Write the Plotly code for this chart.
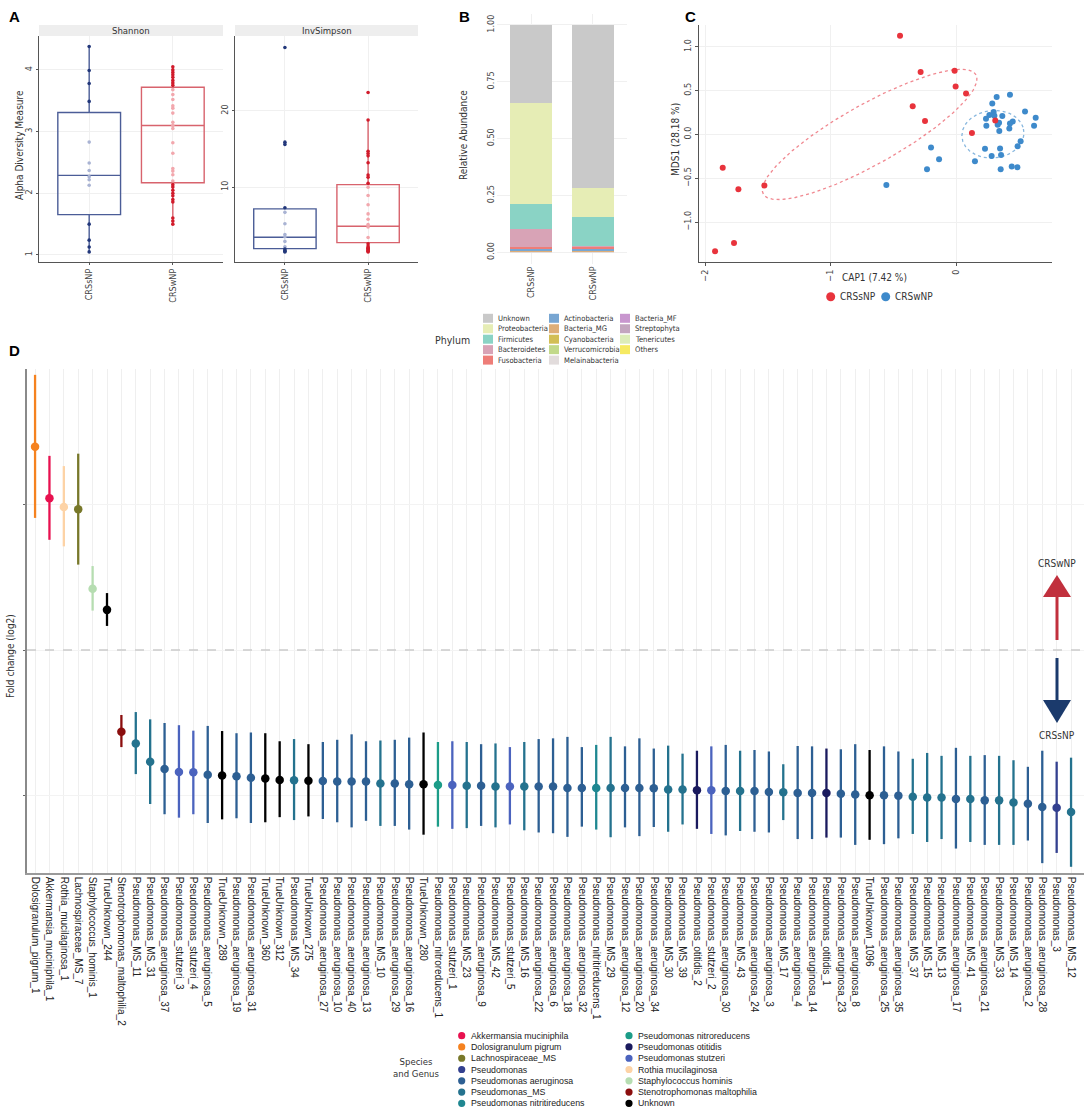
import numpy as np
import plotly.graph_objects as go

W, H = 1084, 1112
def X(p): return p / W
def Y(p): return 1 - p / H

COND = "Liberation Sans Narrow, DejaVu Sans Condensed, sans-serif"
SANS = "Liberation Sans, Arial, sans-serif"
TXT = "#333333"
GRID = "#F0F0F0"

# ---------------- Panel A data (alpha diversity) ----------------
groups = ["CRSsNP", "CRSwNP"]
shannon_crssnp = [4.38, 3.99, 3.78, 3.49, 2.83, 2.49, 2.37, 2.27, 2.22, 2.13, 1.50, 1.24, 1.13, 1.05]
shannon_crswnp = [4.05, 4.00, 3.96, 3.92, 3.88, 3.83, 3.79, 3.75, 3.68, 3.60, 3.52, 3.42, 3.38, 3.30,
                  3.15, 3.10, 3.05, 2.82, 2.65, 2.40, 2.36, 2.30, 2.20, 2.14, 2.10, 2.05, 2.00, 1.96,
                  1.90, 1.86, 1.60, 1.55, 1.50]
invsimpson_crssnp = [28.3, 15.9, 15.6, 7.3, 6.7, 5.2, 3.8, 3.5, 2.9, 2.2, 1.9, 1.7, 1.6, 1.5]
invsimpson_crswnp = [22.4, 18.8, 14.7, 14.4, 14.1, 13.2, 11.6, 11.3, 10.5, 10.0, 8.9, 7.7, 6.5, 5.8,
                     5.1, 4.8, 3.4, 2.6, 2.3, 2.1, 2.0, 1.9, 1.8, 1.7, 1.6, 1.5]
shannon_q1 = [1.654, 2.17]
shannon_med = [2.29, 3.10]
shannon_q3 = [3.31, 3.72]
shannon_lo = [1.05, 1.50]
shannon_hi = [4.38, 4.05]
invs_q1 = [1.95, 2.74]
invs_med = [3.45, 4.89]
invs_q3 = [7.16, 10.34]
invs_lo = [1.5, 1.5]
invs_hi = [7.3, 18.8]

# ---------------- Panel B data (phylum relative abundance) ----------------
phyla = ["Unknown", "Proteobacteria", "Firmicutes", "Bacteroidetes", "Fusobacteria",
         "Actinobacteria", "Bacteria_MG", "Cyanobacteria", "Verrucomicrobia", "Melainabacteria",
         "Bacteria_MF", "Streptophyta", "Tenericutes", "Others"]
abund_crssnp = [0.345, 0.4424, 0.1086, 0.079, 0.0075, 0.008, 0.004, 0.001, 0.001, 0.0005,
                0.0005, 0.001, 0.0005, 0.001]
abund_crswnp = [0.7185, 0.1245, 0.1291, 0.002, 0.0084, 0.008, 0.004, 0.001, 0.001, 0.0005,
                0.0005, 0.001, 0.0005, 0.001]
phylum_colors = ["#C9C9C9", "#E6EDB5", "#8AD3C5", "#D8A3B6", "#EE7D78", "#78A6D2", "#DEAE78",
                 "#D2BE55", "#C2D98A", "#E2DCDC", "#C896CE", "#C3A5BF", "#DCECB8", "#F6EA62"]

# ---------------- Panel C data (CAP ordination) ----------------
cap1_crssnp = [-0.446, -0.282, -0.011, -0.003, 0.080, -0.345, -0.247, 0.127, 0.313, -1.859,
               -1.734, -1.527, -1.769, -1.920]
mds1_crssnp = [1.127, 0.712, 0.727, 0.548, 0.468, 0.323, 0.152, 0.015, 0.160, -0.381,
               -0.625, -0.583, -1.239, -1.334]
cap1_crswnp = [0.430, 0.324, 0.289, 0.550, 0.635, 0.622, 0.266, 0.300, 0.306, 0.239, 0.369,
               0.343, 0.332, 0.452, 0.430, 0.242, 0.425, 0.345, 0.515, 0.491, 0.351, 0.231,
               -0.199, -0.135, -0.231, 0.284, 0.359, 0.151, 0.356, 0.444, 0.489, -0.555]
mds1_crswnp = [0.453, 0.426, 0.354, 0.263, 0.190, 0.098, 0.221, 0.255, 0.213, 0.179, 0.209,
               0.133, 0.110, 0.149, 0.126, 0.098, 0.069, 0.038, -0.077, -0.134, -0.160, -0.164,
               -0.149, -0.282, -0.397, -0.245, -0.236, -0.305, -0.397, -0.366, -0.374, -0.576]
# confidence ellipses: centre, first semi-axis vector, second semi-axis vector (data units)
ellipse_crssnp = [(-0.688, 0.0), (0.848, 0.68), (-0.115, 0.301)]
ellipse_crswnp = [(0.2945, 0.002), (0.24, 0.08), (-0.06, 0.26)]

# ---------------- Panel D data (differential abundance) ----------------
d_labels = ["Dolosigranulum_pigrum_1", "Akkermansia_muciniphila_1", "Rothia_mucilaginosa_1",
            "Lachnospiraceae_MS_7", "Staphylococcus_hominis_1", "TrueUnknown_244",
            "Stenotrophomonas_maltophilia_2", "Pseudomonas_MS_11", "Pseudomonas_MS_31",
            "Pseudomonas_aeruginosa_37", "Pseudomonas_stutzeri_3", "Pseudomonas_stutzeri_4",
            "Pseudomonas_aeruginosa_5", "TrueUnknown_289", "Pseudomonas_aeruginosa_19",
            "Pseudomonas_aeruginosa_31", "TrueUnknown_360", "TrueUnknown_312", "Pseudomonas_MS_34",
            "TrueUnknown_275", "Pseudomonas_aeruginosa_27", "Pseudomonas_aeruginosa_10",
            "Pseudomonas_aeruginosa_40", "Pseudomonas_aeruginosa_13", "Pseudomonas_MS_10",
            "Pseudomonas_aeruginosa_29", "Pseudomonas_aeruginosa_16", "TrueUnknown_280",
            "Pseudomonas_nitroreducens_1", "Pseudomonas_stutzeri_1", "Pseudomonas_MS_23",
            "Pseudomonas_aeruginosa_9", "Pseudomonas_MS_42", "Pseudomonas_stutzeri_5",
            "Pseudomonas_MS_16", "Pseudomonas_aeruginosa_22", "Pseudomonas_aeruginosa_6",
            "Pseudomonas_aeruginosa_18", "Pseudomonas_aeruginosa_32", "Pseudomonas_nitritireducens_1",
            "Pseudomonas_MS_29", "Pseudomonas_aeruginosa_12", "Pseudomonas_aeruginosa_20",
            "Pseudomonas_aeruginosa_34", "Pseudomonas_MS_30", "Pseudomonas_MS_39",
            "Pseudomonas_otitidis_2", "Pseudomonas_stutzeri_2", "Pseudomonas_aeruginosa_30",
            "Pseudomonas_MS_43", "Pseudomonas_aeruginosa_24", "Pseudomonas_aeruginosa_3",
            "Pseudomonas_MS_17", "Pseudomonas_aeruginosa_4", "Pseudomonas_aeruginosa_14",
            "Pseudomonas_otitidis_1", "Pseudomonas_aeruginosa_23", "Pseudomonas_aeruginosa_8",
            "TrueUnknown_1096", "Pseudomonas_aeruginosa_25", "Pseudomonas_aeruginosa_35",
            "Pseudomonas_MS_37", "Pseudomonas_MS_15", "Pseudomonas_MS_13", "Pseudomonas_aeruginosa_17",
            "Pseudomonas_MS_41", "Pseudomonas_aeruginosa_21", "Pseudomonas_MS_33", "Pseudomonas_MS_14",
            "Pseudomonas_aeruginosa_2", "Pseudomonas_aeruginosa_28", "Pseudomonas_3", "Pseudomonas_MS_12"]
d_fc = [27.85, 20.8, 19.6, 19.3, 8.4, 5.5, -11.2, -12.8, -15.3, -16.3,
        -16.7, -16.75, -17.1, -17.2, -17.3, -17.5, -17.6, -17.8, -17.85, -17.9,
        -17.95, -18.0, -18.0, -18.0, -18.3, -18.3, -18.4, -18.4, -18.5, -18.5,
        -18.6, -18.6, -18.7, -18.7, -18.7, -18.7, -18.7, -18.9, -18.9, -18.9,
        -18.9, -18.9, -18.9, -18.95, -19.1, -19.1, -19.2, -19.2, -19.3, -19.3,
        -19.3, -19.45, -19.5, -19.6, -19.6, -19.6, -19.7, -19.8, -19.9, -19.9,
        -19.95, -20.1, -20.2, -20.2, -20.4, -20.4, -20.6, -20.6, -20.9, -21.05,
        -21.5, -21.6, -22.2]
d_hi = [37.7, 26.6, 25.2, 26.9, 11.5, 7.8, -8.9, -8.5, -9.5, -10.0,
        -10.3, -11.05, -10.4, -11.1, -11.4, -11.3, -11.4, -12.5, -12.2, -12.9,
        -12.6, -12.3, -11.55, -12.5, -12.4, -12.3, -12.0, -11.3, -12.6, -12.5,
        -12.6, -12.9, -12.8, -13.3, -12.6, -12.2, -12.1, -11.9, -13.3, -13.0,
        -11.9, -13.2, -12.1, -13.5, -13.1, -14.2, -13.8, -13.2, -13.0, -13.8,
        -13.7, -13.9, -15.65, -13.15, -13.2, -13.5, -13.6, -12.9, -13.7, -13.2,
        -13.9, -14.9, -14.1, -14.5, -13.4, -14.5, -14.4, -14.5, -15.1, -16.0,
        -13.8, -15.3, -14.75]
d_lo = [18.1, 15.1, 14.2, 11.7, 5.4, 3.3, -13.3, -17.0, -21.1, -22.5,
        -22.97, -22.5, -23.7, -23.2, -23.05, -23.7, -23.6, -22.9, -23.3, -22.8,
        -23.15, -23.6, -24.3, -23.4, -24.1, -24.1, -24.6, -25.3, -24.2, -24.5,
        -24.4, -24.1, -24.3, -23.9, -24.7, -25.0, -25.1, -25.6, -24.2, -24.6,
        -25.65, -24.3, -25.5, -24.25, -24.9, -23.9, -24.5, -25.2, -25.4, -24.8,
        -24.9, -25.0, -23.3, -25.9, -25.9, -25.7, -25.7, -26.7, -26.0, -26.6,
        -25.8, -25.2, -26.3, -25.9, -27.2, -26.3, -26.7, -26.7, -26.7, -26.1,
        -29.2, -27.8, -29.7]
taxa = ["Akkermansia muciniphila", "Dolosigranulum pigrum", "Lachnospiraceae_MS", "Pseudomonas",
        "Pseudomonas aeruginosa", "Pseudomonas_MS", "Pseudomonas nitritireducens",
        "Pseudomonas nitroreducens", "Pseudomonas otitidis", "Pseudomonas stutzeri",
        "Rothia mucilaginosa", "Staphylococcus hominis", "Stenotrophomonas maltophilia", "Unknown"]
taxa_colors = ["#E8114F", "#F5821F", "#78782A", "#33408F", "#2D5F93", "#24728E", "#1F8791",
               "#1C9C88", "#1A1A5E", "#4B63BE", "#FDD3A6", "#B6DDB1", "#8B0E0E", "#000000"]
taxon_color = dict(zip(taxa, taxa_colors))


def taxon_of(label):
    if label.startswith("TrueUnknown"):
        return "Unknown"
    prefixes = [("Pseudomonas_MS_", "Pseudomonas_MS"),
                ("Pseudomonas_aeruginosa", "Pseudomonas aeruginosa"),
                ("Pseudomonas_stutzeri", "Pseudomonas stutzeri"),
                ("Pseudomonas_nitroreducens", "Pseudomonas nitroreducens"),
                ("Pseudomonas_nitritireducens", "Pseudomonas nitritireducens"),
                ("Pseudomonas_otitidis", "Pseudomonas otitidis"),
                ("Pseudomonas_", "Pseudomonas"),
                ("Dolosigranulum", "Dolosigranulum pigrum"),
                ("Akkermansia", "Akkermansia muciniphila"),
                ("Rothia", "Rothia mucilaginosa"),
                ("Lachnospiraceae", "Lachnospiraceae_MS"),
                ("Staphylococcus", "Staphylococcus hominis"),
                ("Stenotrophomonas", "Stenotrophomonas maltophilia")]
    for p, name in prefixes:
        if label.startswith(p):
            return name
    return "Unknown"


fig = go.Figure()

# ================= Panel A =================
box_line = ["#4B5D97", "#D8636D"]
pt_dark = ["#22377A", "#D11B2B"]
pt_light = ["#A9B3D3", "#F2A7AD"]
panelA = [("x", "y", [shannon_crssnp, shannon_crswnp], shannon_q1, shannon_med, shannon_q3, shannon_lo, shannon_hi),
          ("x2", "y2", [invsimpson_crssnp, invsimpson_crswnp], invs_q1, invs_med, invs_q3, invs_lo, invs_hi)]
for xa, ya, pts, q1, med, q3, lo, hi in panelA:
    for i, g in enumerate(groups):
        fig.add_trace(go.Box(x=[g], q1=[q1[i]], median=[med[i]], q3=[q3[i]],
                             lowerfence=[lo[i]], upperfence=[hi[i]], width=0.75,
                             line=dict(color=box_line[i], width=1.4), fillcolor="rgba(255,255,255,0)",
                             whiskerwidth=0, boxpoints=False, xaxis=xa, yaxis=ya, showlegend=False))
        cols = [pt_light[i] if q1[i] < v < q3[i] else pt_dark[i] for v in pts[i]]
        fig.add_trace(go.Scatter(x=[g] * len(pts[i]), y=pts[i], mode="markers",
                                 marker=dict(size=3.6, color=cols), xaxis=xa, yaxis=ya, showlegend=False))

# ================= Panel B =================
for name, vs, vw, c in reversed(list(zip(phyla, abund_crssnp, abund_crswnp, phylum_colors))):
    fig.add_trace(go.Bar(x=groups, y=[vs, vw], marker=dict(color=c, line=dict(width=0)), width=0.667,
                         name=name, xaxis="x3", yaxis="y3", showlegend=False))

# ================= Panel C =================
t = np.linspace(0, 2 * np.pi, 240)
for ell, col in [(ellipse_crssnp, "#F08890"), (ellipse_crswnp, "#86B6DE")]:
    (cx, cy), (ax_, ay_), (bx_, by_) = ell
    fig.add_trace(go.Scatter(x=cx + ax_ * np.cos(t) + bx_ * np.sin(t),
                             y=cy + ay_ * np.cos(t) + by_ * np.sin(t), mode="lines",
                             line=dict(color=col, width=1.3, dash="dot"), xaxis="x4", yaxis="y4",
                             showlegend=False, hoverinfo="skip"))
c_colors = ["#E8333C", "#3E8ACB"]
fig.add_trace(go.Scatter(x=cap1_crswnp, y=mds1_crswnp, mode="markers", name="CRSwNP",
                         marker=dict(size=6, color=c_colors[1]), xaxis="x4", yaxis="y4", showlegend=False))
fig.add_trace(go.Scatter(x=cap1_crssnp, y=mds1_crssnp, mode="markers", name="CRSsNP",
                         marker=dict(size=6, color=c_colors[0]), xaxis="x4", yaxis="y4", showlegend=False))

# ================= Panel D =================
d_taxa = [taxon_of(l) for l in d_labels]
for tx in taxa:
    idx = [i for i, v in enumerate(d_taxa) if v == tx]
    if not idx:
        continue
    col = taxon_color[tx]
    fig.add_trace(go.Scatter(
        x=[d_labels[i] for i in idx], y=[d_fc[i] for i in idx], mode="markers",
        marker=dict(size=8.5, color=col),
        error_y=dict(type="data", symmetric=False,
                     array=[d_hi[i] - d_fc[i] for i in idx],
                     arrayminus=[d_fc[i] - d_lo[i] for i in idx],
                     color=col, thickness=2.3, width=0),
        name=tx, xaxis="x5", yaxis="y5", showlegend=False))

# ================= Axes =================
tf = dict(family=COND, size=9, color="#444")
common = dict(automargin=False, zeroline=False, gridcolor=GRID, gridwidth=1, tickfont=tf)
lay = dict(
    xaxis=dict(domain=[X(39), X(223)], anchor="y", type="category", categoryorder="array",
               categoryarray=groups, range=[-0.6, 1.6], tickangle=-90, showline=True,
               linecolor="#555", linewidth=1.2, ticks="outside", ticklen=2, tickcolor="#555", **common),
    yaxis=dict(domain=[Y(262), Y(36)], anchor="x", range=[0.886, 4.55], tickvals=[1, 2, 3, 4],
               tickangle=-90, showline=True, linecolor="#555", linewidth=1.2, ticks="outside",
               ticklen=2, tickcolor="#555", **common),
    xaxis2=dict(domain=[X(235), X(418)], anchor="y2", type="category", categoryorder="array",
                categoryarray=groups, range=[-0.6, 1.6], tickangle=-90, showline=True,
                linecolor="#555", linewidth=1.2, ticks="outside", ticklen=2, tickcolor="#555", **common),
    yaxis2=dict(domain=[Y(262), Y(36)], anchor="x2", range=[0.2, 29.8], tickvals=[10, 20],
                tickangle=-90, showline=True, linecolor="#555", linewidth=1.2, ticks="outside",
                ticklen=2, tickcolor="#555", **common),
    xaxis3=dict(domain=[X(497), X(627)], anchor="y3", type="category", categoryorder="array",
                categoryarray=groups, range=[-0.55, 1.55], tickangle=-90, showline=False, **common),
    yaxis3=dict(domain=[Y(263.7), Y(13.6)], anchor="x3", range=[-0.05, 1.05],
                tickvals=[0, 0.25, 0.5, 0.75, 1.0], ticktext=["0.00", "0.25", "0.50", "0.75", "1.00"],
                tickangle=-90, showline=False, **common),
    xaxis4=dict(domain=[X(699), X(1052)], anchor="y4", range=[-2.048, 0.765], tickvals=[-2, -1, 0],
                tickangle=-90, showline=True, linecolor="#555", linewidth=1.2, ticks="outside",
                ticklen=3, tickcolor="#555", **common),
    yaxis4=dict(domain=[Y(262), Y(25)], anchor="x4", range=[-1.456, 1.249],
                tickvals=[-1.0, -0.5, 0.0, 0.5, 1.0], tickformat=".1f", tickangle=-90,
                showline=True, linecolor="#555", linewidth=1.2, ticks="outside", ticklen=3,
                tickcolor="#555", **common),
    xaxis5=dict(domain=[X(27), X(1084)], anchor="y5", type="category", categoryorder="array",
                categoryarray=d_labels, range=[-0.56, 72.9], tickangle=90, showline=True,
                linecolor="#9A9A9A", linewidth=1.5, automargin=False, zeroline=False,
                gridcolor="#EFEFEF", tickfont=dict(family=SANS, size=10, color="#222")),
    yaxis5=dict(domain=[Y(873), Y(369)], anchor="x5", range=[-30.55, 38.5], tickvals=[-20, 0, 20],
                showticklabels=False, ticks="outside", ticklen=2, tickcolor="#666", showline=True,
                linecolor="#8A8A8A", linewidth=2, automargin=False, zeroline=False, gridcolor="#F3F3F3"),
)

shapes = []
annots = []


def txt(x, y, s, size=10, family=COND, color=TXT, xanchor="center", yanchor="middle", angle=0):
    annots.append(dict(x=X(x), y=Y(y), xref="paper", yref="paper", text=s, showarrow=False,
                       font=dict(size=size, family=family, color=color), xanchor=xanchor,
                       yanchor=yanchor, textangle=angle))


# panel letters
for s, x, y in [("A", 14, 16), ("B", 464, 16), ("C", 690, 16), ("D", 14, 350)]:
    txt(x, y, "<b>%s</b>" % s, size=15, family=SANS, color="#000")

# facet strips in A
for x0, x1, lab in [(39, 223, "Shannon"), (235, 418, "InvSimpson")]:
    shapes.append(dict(type="rect", xref="paper", yref="paper", x0=X(x0), x1=X(x1), y0=Y(36), y1=Y(25),
                       fillcolor="#EEEEEE", line=dict(width=0), layer="below"))
    txt((x0 + x1) / 2, 30.5, lab, size=9.5)

# axis titles
txt(20, 145, "Alpha Diversity Measure", size=10, angle=-90)
txt(463, 135, "Relative Abundance", size=10, angle=-90)
txt(675, 140, "MDS1 (28.18 %)", size=10, angle=-90)
txt(874, 277, "CAP1 (7.42 %)", size=10)
txt(10, 656, "Fold change (log2)", size=10, angle=-90)

# legend B (Phylum) - three columns
txt(452, 340, "Phylum", size=10.5)
col_x = [483, 549, 620]
for k, (name, c) in enumerate(zip(phyla, phylum_colors)):
    col, row = divmod(k, 5)
    yy = 318.3 + 10.45 * row
    shapes.append(dict(type="rect", xref="paper", yref="paper", x0=X(col_x[col]), x1=X(col_x[col] + 10),
                       y0=Y(yy + 4.5), y1=Y(yy - 4.5), fillcolor=c, line=dict(width=0)))
    txt(col_x[col] + 13, yy, name, size=7.6, xanchor="left")

# legend C
for k, (g, c) in enumerate(zip(groups, c_colors)):
    xx = 830.7 + 55 * k
    shapes.append(dict(type="circle", xref="paper", yref="paper", x0=X(xx - 4.5), x1=X(xx + 4.5),
                       y0=Y(296.7 + 4.5), y1=Y(296.7 - 4.5), fillcolor=c, line=dict(width=0)))
    txt(xx + 7, 296.7, g, size=10, xanchor="left")

# legend D (Species and Genus) - two columns
txt(442, 1067, "Species<br>and Genus", size=9.5, xanchor="right")
for k, (name, c) in enumerate(zip(taxa, taxa_colors)):
    col, row = divmod(k, 7)
    xx = [461.7, 629][col]
    yy = 1035.7 + 11.27 * row
    shapes.append(dict(type="circle", xref="paper", yref="paper", x0=X(xx - 3.6), x1=X(xx + 3.6),
                       y0=Y(yy + 3.6), y1=Y(yy - 3.6), fillcolor=c, line=dict(width=0)))
    txt(xx + 7, yy, name, size=8.8, family=SANS, color="#222", xanchor="left")

# zero reference line in D
shapes.append(dict(type="line", xref="paper", yref="y5", x0=X(27), x1=X(1084), y0=0, y1=0,
                   line=dict(color="#CCCCCC", width=1.5, dash="dash")))

# direction arrows in D
ax_x = 1057
red, blue = "#C1303D", "#1B3A6C"
shapes.append(dict(type="line", xref="paper", yref="paper", x0=X(ax_x), x1=X(ax_x), y0=Y(640), y1=Y(596),
                   line=dict(color=red, width=3)))
shapes.append(dict(type="path", xref="paper", yref="paper",
                   path="M %f,%f L %f,%f L %f,%f Z" % (X(ax_x - 14), Y(597), X(ax_x + 14), Y(597), X(ax_x), Y(575)),
                   fillcolor=red, line=dict(width=0)))
shapes.append(dict(type="line", xref="paper", yref="paper", x0=X(ax_x), x1=X(ax_x), y0=Y(658), y1=Y(701),
                   line=dict(color=blue, width=3)))
shapes.append(dict(type="path", xref="paper", yref="paper",
                   path="M %f,%f L %f,%f L %f,%f Z" % (X(ax_x - 14), Y(700), X(ax_x + 14), Y(700), X(ax_x), Y(723)),
                   fillcolor=blue, line=dict(width=0)))
txt(ax_x, 563, "CRSwNP", size=10)
txt(ax_x, 735, "CRSsNP", size=10)

fig.update_layout(width=W, height=H, margin=dict(l=0, r=0, t=0, b=0), template="none",
                  paper_bgcolor="white", plot_bgcolor="white", showlegend=False,
                  barmode="stack", boxmode="overlay", shapes=shapes, annotations=annots, **lay)

fig.write_html("out.html", config={"displayModeBar": False},
               post_script="document.body.style.margin='0';document.body.style.overflow='hidden';")
